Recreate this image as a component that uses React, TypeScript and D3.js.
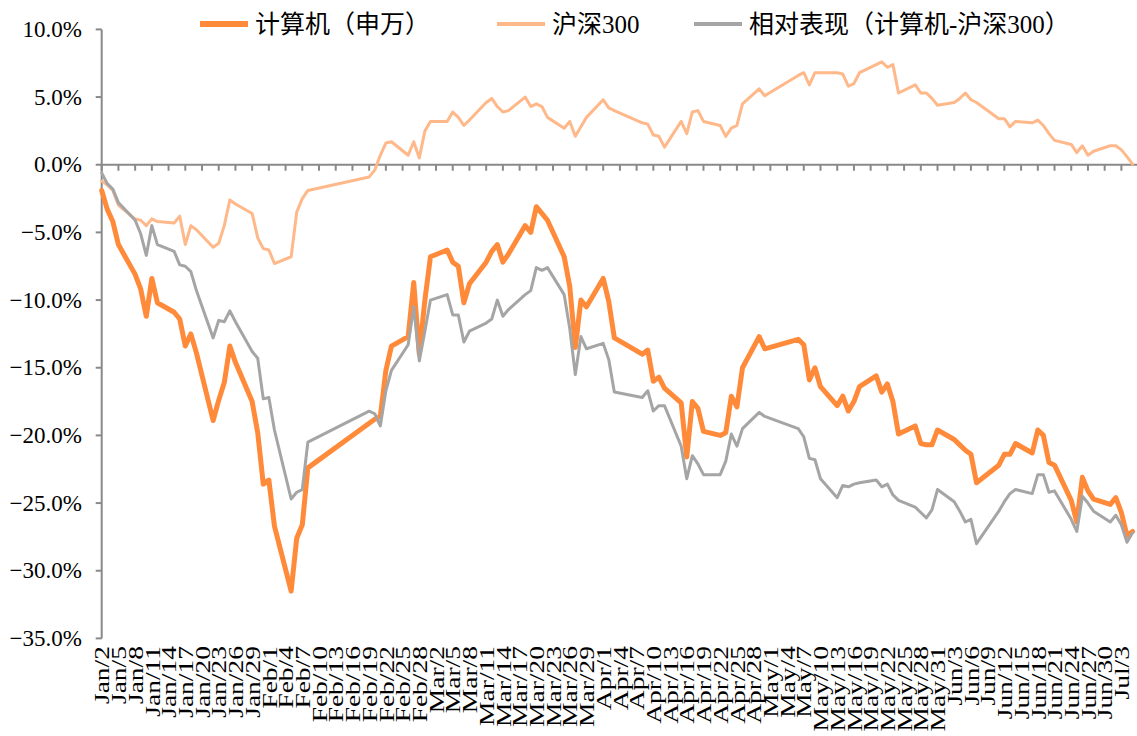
import React from "react";
import * as d3 from "d3";

// trading days 2024
const dates = [
  "01-02","01-03","01-04","01-05","01-08","01-09","01-10","01-11","01-12",
  "01-15","01-16","01-17","01-18","01-19","01-22","01-23","01-24","01-25","01-26",
  "01-29","01-30","01-31","02-01","02-02","02-05","02-06","02-07","02-08",
  "02-19","02-20","02-21","02-22","02-23","02-26","02-27","02-28","02-29","03-01",
  "03-04","03-05","03-06","03-07","03-08","03-11","03-12","03-13","03-14","03-15",
  "03-18","03-19","03-20","03-21","03-22","03-25","03-26","03-27","03-28","03-29",
  "04-01","04-02","04-03","04-08","04-09","04-10","04-11","04-12",
  "04-15","04-16","04-17","04-18","04-19","04-22","04-23","04-24","04-25","04-26",
  "04-29","04-30","05-06","05-07","05-08","05-09","05-10",
  "05-13","05-14","05-15","05-16","05-17","05-20","05-21","05-22","05-23","05-24",
  "05-27","05-28","05-29","05-30","05-31","06-03","06-04","06-05","06-06","06-07",
  "06-11","06-12","06-13","06-14","06-17","06-18","06-19","06-20","06-21",
  "06-24","06-25","06-26","06-27","06-28","07-01","07-02","07-03","07-04","07-05",
];

// 计算机（申万）
const computer = [
  -1.9,-3.3,-4.2,-5.9,-8.1,-9.2,-11.2,-8.4,-10.2,
  -10.9,-11.4,-13.4,-12.5,-13.9,-18.9,-17.4,-16.1,-13.4,-14.6,
  -17.5,-19.8,-23.6,-23.3,-26.7,-31.5,-27.6,-26.6,-22.4,
  -19.1,-18.8,-18.6,-15.2,-13.4,-12.7,-8.7,-14.0,-10.0,-6.8,
  -6.3,-7.2,-7.5,-10.2,-8.8,-7.2,-6.4,-5.9,-7.2,-6.6,
  -4.5,-5.0,-3.1,-3.6,-4.1,-6.8,-9.0,-13.5,-10.0,-10.5,
  -8.4,-10.1,-12.8,-14.0,-13.7,-16.0,-15.7,-16.5,
  -17.6,-21.6,-17.5,-18.0,-19.7,-20.0,-19.8,-17.1,-17.9,-15.0,
  -12.7,-13.6,-12.9,-13.3,-15.9,-15.0,-16.4,
  -17.8,-17.1,-18.2,-17.5,-16.4,-15.6,-16.8,-16.2,-17.5,-19.9,
  -19.3,-20.6,-20.7,-20.7,-19.6,-20.3,-20.7,-21.1,-21.4,-23.5,
  -22.2,-21.4,-21.4,-20.6,-21.3,-19.6,-20.0,-22.0,-22.2,
  -24.8,-26.4,-23.1,-24.1,-24.7,-25.1,-24.6,-25.7,-27.4,-27.1,
];

// 沪深300
const hs300 = [
  -1.2,-1.5,-1.9,-3.0,-4.0,-4.1,-4.5,-4.0,-4.2,
  -4.3,-3.8,-5.9,-4.5,-4.8,-6.1,-5.8,-4.5,-2.6,-2.9,
  -3.6,-5.4,-6.2,-6.3,-7.3,-6.8,-3.5,-2.5,-1.9,
  -0.9,-0.4,0.7,1.6,1.7,0.7,1.7,0.5,2.5,3.2,
  3.2,3.9,3.5,2.9,3.3,4.6,4.9,4.3,3.9,4.0,
  5.0,4.3,4.5,4.3,3.5,2.7,3.2,2.1,2.8,3.5,
  4.8,4.2,4.0,3.1,3.0,2.2,2.1,1.3,
  3.2,2.3,3.9,4.0,3.2,2.9,2.1,2.7,2.9,4.5,
  5.6,5.1,6.6,6.8,5.9,6.8,6.8,
  6.8,6.7,5.8,6.0,6.8,7.4,7.6,7.2,7.4,5.3,
  5.9,5.3,5.3,4.9,4.4,4.6,4.9,5.3,4.8,4.6,
  3.4,3.4,2.8,3.2,3.1,3.3,2.9,2.3,1.8,
  1.5,0.9,1.4,0.7,1.0,1.4,1.4,1.1,0.6,0.05,
];

// 相对表现（计算机-沪深300）
const relative = [
  -0.6,-1.4,-1.8,-2.8,-4.1,-5.1,-6.7,-4.5,-5.9,
  -6.4,-7.4,-7.5,-7.9,-9.3,-12.8,-11.5,-11.6,-10.8,-11.6,
  -13.8,-14.3,-17.3,-17.2,-19.6,-24.7,-24.2,-24.0,-20.5,
  -18.2,-18.4,-19.3,-16.7,-15.2,-13.3,-10.5,-14.5,-12.3,-10.0,
  -9.6,-11.1,-11.1,-13.1,-12.3,-11.7,-11.4,-10.0,-11.2,-10.7,
  -9.6,-9.3,-7.6,-7.8,-7.6,-9.6,-12.1,-15.5,-12.7,-13.6,
  -13.2,-14.4,-16.8,-17.2,-16.7,-18.2,-17.8,-17.8,
  -20.8,-23.2,-21.5,-22.1,-22.9,-22.9,-21.9,-19.9,-20.8,-19.5,
  -18.3,-18.6,-19.5,-20.1,-21.7,-21.8,-23.2,
  -24.6,-23.7,-23.8,-23.6,-23.5,-23.3,-23.8,-23.6,-24.4,-24.8,
  -25.3,-25.7,-26.1,-25.5,-24.0,-24.9,-25.6,-26.4,-26.2,-28.0,
  -25.6,-24.9,-24.3,-24.0,-24.3,-22.9,-22.9,-24.2,-24.1,
  -26.2,-27.1,-24.5,-25.0,-25.6,-26.4,-25.9,-26.6,-27.9,-27.2,
];

const tickLabels = [
  "Jan/2","Jan/5","Jan/8","Jan/11","Jan/14","Jan/17","Jan/20","Jan/23","Jan/26","Jan/29",
  "Feb/1","Feb/4","Feb/7","Feb/10","Feb/13","Feb/16","Feb/19","Feb/22","Feb/25","Feb/28",
  "Mar/2","Mar/5","Mar/8","Mar/11","Mar/14","Mar/17","Mar/20","Mar/23","Mar/26","Mar/29",
  "Apr/1","Apr/4","Apr/7","Apr/10","Apr/13","Apr/16","Apr/19","Apr/22","Apr/25","Apr/28",
  "May/1","May/4","May/7","May/10","May/13","May/16","May/19","May/22","May/25","May/28","May/31",
  "Jun/3","Jun/6","Jun/9","Jun/12","Jun/15","Jun/18","Jun/21","Jun/24","Jun/27","Jun/30",
  "Jul/3",
];

const yTicks = [10, 5, 0, -5, -10, -15, -20, -25, -30, -35];

const seriesNames = ["计算机（申万）", "沪深300", "相对表现（计算机-沪深300）"];
const seriesColors = ["#FF8A3A", "#FFB88A", "#A5A5A5"];
const seriesWidths = [5, 3, 3];

const MONTHS = ["Jan","Feb","Mar","Apr","May","Jun","Jul","Aug","Sep","Oct","Nov","Dec"];
const parseDate = (s: string) => {
  const [m, d] = s.split("-").map(Number);
  return new Date(Date.UTC(2024, m - 1, d));
};
const parseTick = (s: string) => {
  const [mn, d] = s.split("/");
  return new Date(Date.UTC(2024, MONTHS.indexOf(mn), Number(d)));
};

export default function App() {
  const W = 1137, H = 736;
  const x = d3.scaleUtc()
    .domain([new Date(Date.UTC(2024, 0, 2)), new Date(Date.UTC(2024, 6, 6))])
    .range([101.7, 1138.1]);
  const y = d3.scaleLinear().domain([-35, 10]).range([638.4, 29.4]);
  const axisColor = "#898989";
  const font = "'Liberation Serif', 'Times New Roman', 'Noto Sans CJK SC', serif";

  const seriesData = [computer, hs300, relative];
  const line = d3.line<[Date, number]>().x(d => x(d[0])).y(d => y(d[1]));

  const legendX = [200, 497, 694];

  return (
    <svg width={W} height={H} style={{ position: "absolute", left: 0, top: 0, background: "#fff" }}
      fontFamily={font}>
      <rect width={W} height={H} fill="#fff" />
      {/* y axis */}
      <line x1={x.range()[0]} x2={x.range()[0]} y1={y(10)} y2={y(-35)} stroke={axisColor} strokeWidth={2} />
      {yTicks.map(t => (
        <g key={t}>
          <line x1={x.range()[0] - 6} x2={x.range()[0]} y1={y(t)} y2={y(t)} stroke={axisColor} strokeWidth={2} />
          <text x={82} y={y(t)} textAnchor="end" dominantBaseline="central" fontSize={23} fill="#000">
            {d3.format(".1f")(t) + "%"}
          </text>
        </g>
      ))}
      {/* x axis at 0 */}
      <line x1={x.range()[0]} x2={W} y1={y(0)} y2={y(0)} stroke={axisColor} strokeWidth={2} />
      {tickLabels.map(lbl => {
        const xx = x(parseTick(lbl));
        return (
          <g key={lbl}>
            <line x1={xx} x2={xx} y1={y(0)} y2={y(0) + 6} stroke={axisColor} strokeWidth={2} />
            <text transform={`translate(${xx},646) rotate(-90) scale(1.25,1)`} textAnchor="end" dy="0.35em" fontSize={22} fill="#000">
              {lbl}
            </text>
          </g>
        );
      })}
      {/* series */}
      {seriesData.map((vals, i) => (
        <path key={i}
          d={line(vals.map((v, j) => [parseDate(dates[j]), v] as [Date, number])) || ""}
          fill="none" stroke={seriesColors[i]} strokeWidth={seriesWidths[i]} strokeLinejoin="round" strokeLinecap="round" />
      ))}
      {/* legend */}
      {seriesNames.map((n, i) => (
        <g key={n}>
          <line x1={legendX[i]} x2={legendX[i] + 48} y1={24} y2={24} stroke={seriesColors[i]} strokeWidth={seriesWidths[i] + 1} />
          <text x={legendX[i] + 55} y={24} dominantBaseline="central" fontSize={25} fill="#000">{n}</text>
        </g>
      ))}
    </svg>
  );
}
